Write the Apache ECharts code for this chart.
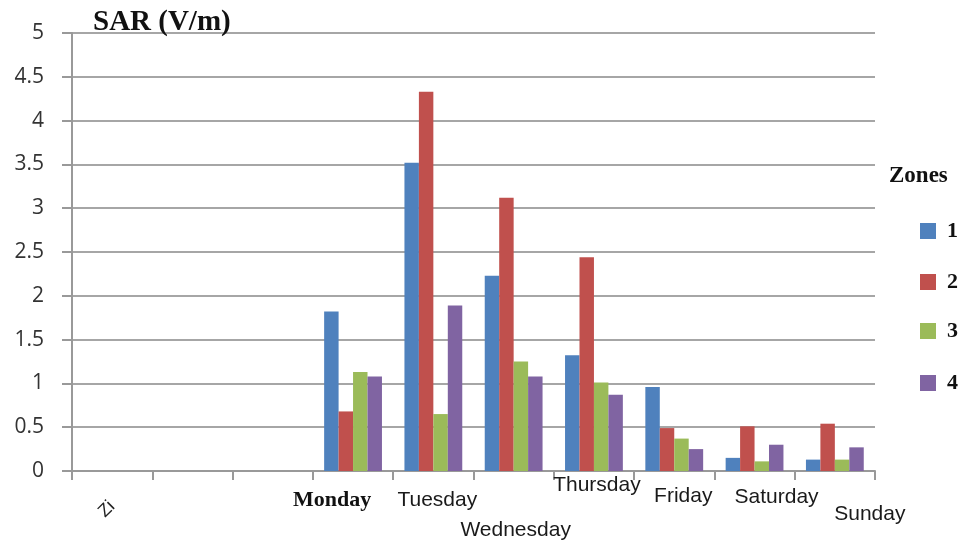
<!DOCTYPE html>
<html>
<head>
<meta charset="utf-8">
<script src="https://cdn.jsdelivr.net/npm/echarts@6/dist/echarts.min.js"></script>
<style>
  html, body { margin: 0; padding: 0; background: #fff; }
  #chart { width: 960px; height: 547px; }
</style>
</head>
<body>
<div id="chart"></div>
<script>
// Category labels along the x axis (first three slots carry no bars)
const categories = ['Zi', '', '', 'Monday', 'Tuesday', 'Wednesday', 'Thursday', 'Friday', 'Saturday', 'Sunday'];

// SAR (V/m) per zone
const zone1 = [null, null, null, 1.82, 3.52, 2.23, 1.32, 0.96, 0.15, 0.13];
const zone2 = [null, null, null, 0.68, 4.33, 3.12, 2.44, 0.49, 0.51, 0.54];
const zone3 = [null, null, null, 1.13, 0.65, 1.25, 1.01, 0.37, 0.11, 0.13];
const zone4 = [null, null, null, 1.08, 1.89, 1.08, 0.87, 0.25, 0.30, 0.27];

const zoneNames = ['1', '2', '3', '4'];
const zoneColors = ['#4F81BD', '#C0504D', '#9BBB59', '#8064A2'];
const yTicks = { min: 0, max: 5, interval: 0.5 };

const chart = echarts.init(document.getElementById('chart'), null, { renderer: 'canvas' });

const sans = "'Liberation Sans', Arial, sans-serif";
const serif = "'Liberation Serif', 'Times New Roman', serif";

// Per-day label styles: staggered offsets of the day names under the axis
const dayStyle = (padTop, padLeft, padRight, bold) => ({
  fontFamily: bold ? serif : sans,
  fontWeight: bold ? 'bold' : 'normal',
  fontSize: bold ? 22 : 21,
  lineHeight: 22,
  color: bold ? '#111' : '#1a1a1a',
  padding: [padTop, padRight, 0, padLeft]
});
const richDays = {
  Monday: dayStyle(32, 0, 42, true),
  Tuesday: dayStyle(32, 8, 0),
  Wednesday: dayStyle(92, 4, 0),
  Thursday: dayStyle(2, 6, 0),
  Friday: dayStyle(24, 18, 0),
  Saturday: dayStyle(26, 44, 0),
  Sunday: dayStyle(60, 70, 0)
};

const seriesData = [zone1, zone2, zone3, zone4];

const grid = { left: 72, right: 85, top: 33, bottom: 76 };

const legendTops = [220, 271, 320, 372];

chart.setOption({
  animation: false,
  backgroundColor: '#fff',
  title: [
    {
      text: 'SAR (V/m)',
      left: 93, top: 8, padding: 0,
      textStyle: { fontFamily: serif, fontWeight: 'bold', fontSize: 29, color: '#111' }
    },
    {
      text: 'Zones',
      left: 889, top: 165, padding: 0,
      textStyle: { fontFamily: serif, fontWeight: 'bold', fontSize: 23, color: '#111' }
    }
  ],
  legend: zoneNames.map((n, i) => ({
    data: [n],
    left: 920,
    top: legendTops[i],
    padding: 0,
    itemWidth: 16,
    itemHeight: 16,
    icon: 'rect',
    selectedMode: false,
    textStyle: {
      fontFamily: serif, fontWeight: 'bold', fontSize: 22, color: '#111',
      padding: [i === 0 ? 10 : 0, 0, 0, 6]
    }
  })),
  grid: grid,
  xAxis: [
    {
      type: 'category',
      data: categories,
      boundaryGap: true,
      axisLine: { show: true, lineStyle: { color: '#999', width: 2 } },
      axisTick: { show: true, interval: 0, length: 9, lineStyle: { color: '#999', width: 2 } },
      axisLabel: {
        interval: 0,
        margin: 2,
        formatter: (v) => (richDays[v] ? '{' + v + '|' + v + '}' : ''),
        rich: richDays
      },
      splitLine: { show: false }
    },
    {
      type: 'category',
      data: categories,
      position: 'bottom',
      gridIndex: 0,
      axisLine: { show: false },
      axisTick: { show: false },
      axisLabel: {
        interval: 0,
        rotate: 45,
        margin: 33,
        fontFamily: sans,
        fontSize: 18,
        color: '#222',
        formatter: (v, idx) => (idx === 0 ? v : '')
      }
    }
  ],
  yAxis: {
    type: 'value',
    min: yTicks.min,
    max: yTicks.max,
    interval: yTicks.interval,
    axisLine: { show: true, lineStyle: { color: '#999', width: 2 } },
    axisTick: { show: true, length: 10, lineStyle: { color: '#999', width: 2 } },
    axisLabel: {
      margin: 28,
      fontFamily: "'Open Sans', sans-serif",
      fontSize: 21,
      color: '#333'
    },
    splitLine: { show: true, lineStyle: { color: '#a6a6a6', width: 2 } }
  },
  series: zoneNames.map((n, i) => ({
    name: n,
    type: 'bar',
    xAxisIndex: 0,
    data: seriesData[i],
    barGap: '0%',
    barCategoryGap: '28%',
    itemStyle: { color: zoneColors[i] }
  }))
});
</script>
</body>
</html>
